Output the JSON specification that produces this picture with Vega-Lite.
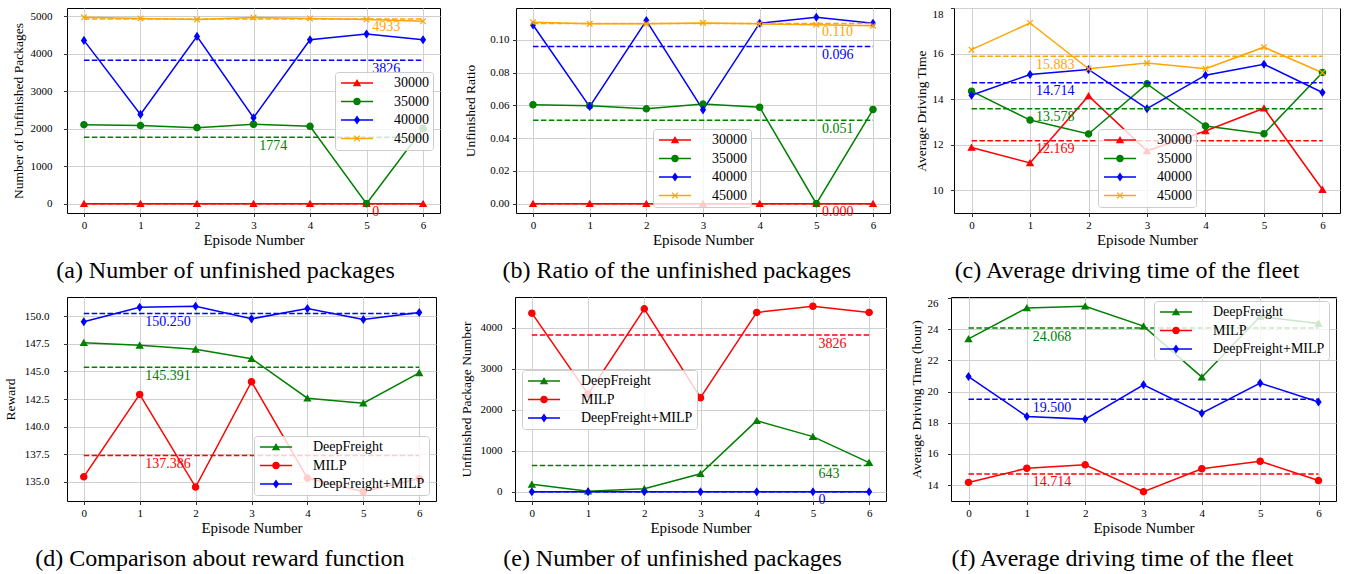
{
  "$schema": "https://vega.github.io/schema/vega-lite/v6.json",
  "background": "white",
  "padding": {"left": 3, "top": 7, "right": 4, "bottom": 0},
  "config": {
    "font": "Liberation Serif",
    "view": {"stroke": "black", "strokeWidth": 1},
    "axis": {"labelFont": "Liberation Serif", "titleFont": "Liberation Serif", "labelColor": "black", "titleColor": "black", "titleFontWeight": "normal", "tickColor": "black", "tickSize": 3.5, "tickWidth": 0.8, "domain": false, "gridColor": "#d0d0d0", "gridWidth": 1, "labelFontSize": 11},
    "axisX": {"titleFontSize": 15, "labelPadding": 2.5, "titlePadding": 2, "labelAngle": 0},
    "axisY": {"titleFontSize": 13.5},
    "legend": {"labelFont": "Liberation Serif", "labelFontSize": 14, "labelColor": "black", "strokeColor": "#cccccc", "fillColor": "rgba(255,255,255,0.8)", "cornerRadius": 3, "padding": 4, "rowPadding": 4.5, "symbolOffset": 11, "labelOffset": 30},
    "title": {"font": "Liberation Serif", "fontSize": 24, "fontWeight": "normal", "color": "black"},
    "concat": {"spacing": 23}
  },
  "datasets": {
    "a": [
      {"episode": 0, "series": "30000", "value": 0}, {"episode": 1, "series": "30000", "value": 0}, {"episode": 2, "series": "30000", "value": 0}, {"episode": 3, "series": "30000", "value": 0}, {"episode": 4, "series": "30000", "value": 0}, {"episode": 5, "series": "30000", "value": 0}, {"episode": 6, "series": "30000", "value": 0},
      {"episode": 0, "series": "35000", "value": 2110}, {"episode": 1, "series": "35000", "value": 2085}, {"episode": 2, "series": "35000", "value": 2030}, {"episode": 3, "series": "35000", "value": 2120}, {"episode": 4, "series": "35000", "value": 2066}, {"episode": 5, "series": "35000", "value": 0}, {"episode": 6, "series": "35000", "value": 2007},
      {"episode": 0, "series": "40000", "value": 4359}, {"episode": 1, "series": "40000", "value": 2384}, {"episode": 2, "series": "40000", "value": 4466}, {"episode": 3, "series": "40000", "value": 2295}, {"episode": 4, "series": "40000", "value": 4377}, {"episode": 5, "series": "40000", "value": 4528}, {"episode": 6, "series": "40000", "value": 4377},
      {"episode": 0, "series": "45000", "value": 4975}, {"episode": 1, "series": "45000", "value": 4945}, {"episode": 2, "series": "45000", "value": 4915}, {"episode": 3, "series": "45000", "value": 4968}, {"episode": 4, "series": "45000", "value": 4942}, {"episode": 5, "series": "45000", "value": 4915}, {"episode": 6, "series": "45000", "value": 4871},
      {"episode": 0, "series": "30000", "kind": "mean", "value": 0, "label": "0"}, {"episode": 6, "series": "30000", "kind": "mean", "value": 0, "label": "0"},
      {"episode": 0, "series": "35000", "kind": "mean", "value": 1774, "label": "1774"}, {"episode": 6, "series": "35000", "kind": "mean", "value": 1774, "label": "1774"},
      {"episode": 0, "series": "40000", "kind": "mean", "value": 3826, "label": "3826"}, {"episode": 6, "series": "40000", "kind": "mean", "value": 3826, "label": "3826"},
      {"episode": 0, "series": "45000", "kind": "mean", "value": 4933, "label": "4933"}, {"episode": 6, "series": "45000", "kind": "mean", "value": 4933, "label": "4933"}
    ],
    "b": [
      {"episode": 0, "series": "30000", "value": 0}, {"episode": 1, "series": "30000", "value": 0}, {"episode": 2, "series": "30000", "value": 0}, {"episode": 3, "series": "30000", "value": 0}, {"episode": 4, "series": "30000", "value": 0}, {"episode": 5, "series": "30000", "value": 0}, {"episode": 6, "series": "30000", "value": 0},
      {"episode": 0, "series": "35000", "value": 0.0604}, {"episode": 1, "series": "35000", "value": 0.0598}, {"episode": 2, "series": "35000", "value": 0.0579}, {"episode": 3, "series": "35000", "value": 0.0608}, {"episode": 4, "series": "35000", "value": 0.0589}, {"episode": 5, "series": "35000", "value": 0}, {"episode": 6, "series": "35000", "value": 0.0575},
      {"episode": 0, "series": "40000", "value": 0.1091}, {"episode": 1, "series": "40000", "value": 0.0593}, {"episode": 2, "series": "40000", "value": 0.1118}, {"episode": 3, "series": "40000", "value": 0.0573}, {"episode": 4, "series": "40000", "value": 0.1102}, {"episode": 5, "series": "40000", "value": 0.1138}, {"episode": 6, "series": "40000", "value": 0.1102},
      {"episode": 0, "series": "45000", "value": 0.1108}, {"episode": 1, "series": "45000", "value": 0.1098}, {"episode": 2, "series": "45000", "value": 0.1098}, {"episode": 3, "series": "45000", "value": 0.1104}, {"episode": 4, "series": "45000", "value": 0.1098}, {"episode": 5, "series": "45000", "value": 0.1093}, {"episode": 6, "series": "45000", "value": 0.1087},
      {"episode": 0, "series": "30000", "kind": "mean", "value": 0, "label": "0.000"}, {"episode": 6, "series": "30000", "kind": "mean", "value": 0, "label": "0.000"},
      {"episode": 0, "series": "35000", "kind": "mean", "value": 0.051, "label": "0.051"}, {"episode": 6, "series": "35000", "kind": "mean", "value": 0.051, "label": "0.051"},
      {"episode": 0, "series": "40000", "kind": "mean", "value": 0.096, "label": "0.096"}, {"episode": 6, "series": "40000", "kind": "mean", "value": 0.096, "label": "0.096"},
      {"episode": 0, "series": "45000", "kind": "mean", "value": 0.110, "label": "0.110"}, {"episode": 6, "series": "45000", "kind": "mean", "value": 0.110, "label": "0.110"}
    ],
    "c": [
      {"episode": 0, "series": "30000", "value": 11.88}, {"episode": 1, "series": "30000", "value": 11.20}, {"episode": 2, "series": "30000", "value": 14.14}, {"episode": 3, "series": "30000", "value": 11.73}, {"episode": 4, "series": "30000", "value": 12.60}, {"episode": 5, "series": "30000", "value": 13.60}, {"episode": 6, "series": "30000", "value": 10.03},
      {"episode": 0, "series": "35000", "value": 14.35}, {"episode": 1, "series": "35000", "value": 13.08}, {"episode": 2, "series": "35000", "value": 12.47}, {"episode": 3, "series": "35000", "value": 14.67}, {"episode": 4, "series": "35000", "value": 12.82}, {"episode": 5, "series": "35000", "value": 12.48}, {"episode": 6, "series": "35000", "value": 15.17},
      {"episode": 0, "series": "40000", "value": 14.17}, {"episode": 1, "series": "40000", "value": 15.08}, {"episode": 2, "series": "40000", "value": 15.30}, {"episode": 3, "series": "40000", "value": 13.58}, {"episode": 4, "series": "40000", "value": 15.05}, {"episode": 5, "series": "40000", "value": 15.53}, {"episode": 6, "series": "40000", "value": 14.29},
      {"episode": 0, "series": "45000", "value": 16.17}, {"episode": 1, "series": "45000", "value": 17.34}, {"episode": 2, "series": "45000", "value": 15.33}, {"episode": 3, "series": "45000", "value": 15.58}, {"episode": 4, "series": "45000", "value": 15.33}, {"episode": 5, "series": "45000", "value": 16.28}, {"episode": 6, "series": "45000", "value": 15.16},
      {"episode": 0, "series": "30000", "kind": "mean", "value": 12.169, "label": "12.169"}, {"episode": 6, "series": "30000", "kind": "mean", "value": 12.169, "label": "12.169"},
      {"episode": 0, "series": "35000", "kind": "mean", "value": 13.578, "label": "13.578"}, {"episode": 6, "series": "35000", "kind": "mean", "value": 13.578, "label": "13.578"},
      {"episode": 0, "series": "40000", "kind": "mean", "value": 14.714, "label": "14.714"}, {"episode": 6, "series": "40000", "kind": "mean", "value": 14.714, "label": "14.714"},
      {"episode": 0, "series": "45000", "kind": "mean", "value": 15.883, "label": "15.883"}, {"episode": 6, "series": "45000", "kind": "mean", "value": 15.883, "label": "15.883"}
    ],
    "d": [
      {"episode": 0, "series": "DeepFreight", "value": 147.61}, {"episode": 1, "series": "DeepFreight", "value": 147.37}, {"episode": 2, "series": "DeepFreight", "value": 147.01}, {"episode": 3, "series": "DeepFreight", "value": 146.16}, {"episode": 4, "series": "DeepFreight", "value": 142.58}, {"episode": 5, "series": "DeepFreight", "value": 142.13}, {"episode": 6, "series": "DeepFreight", "value": 144.88},
      {"episode": 0, "series": "MILP", "value": 135.45}, {"episode": 1, "series": "MILP", "value": 142.92}, {"episode": 2, "series": "MILP", "value": 134.52}, {"episode": 3, "series": "MILP", "value": 144.07}, {"episode": 4, "series": "MILP", "value": 135.34}, {"episode": 5, "series": "MILP", "value": 134.10}, {"episode": 6, "series": "MILP", "value": 135.30},
      {"episode": 0, "series": "DeepFreight+MILP", "value": 149.50}, {"episode": 1, "series": "DeepFreight+MILP", "value": 150.82}, {"episode": 2, "series": "DeepFreight+MILP", "value": 150.91}, {"episode": 3, "series": "DeepFreight+MILP", "value": 149.77}, {"episode": 4, "series": "DeepFreight+MILP", "value": 150.70}, {"episode": 5, "series": "DeepFreight+MILP", "value": 149.71}, {"episode": 6, "series": "DeepFreight+MILP", "value": 150.34},
      {"episode": 0, "series": "DeepFreight", "kind": "mean", "value": 145.391, "label": "145.391"}, {"episode": 6, "series": "DeepFreight", "kind": "mean", "value": 145.391, "label": "145.391"},
      {"episode": 0, "series": "MILP", "kind": "mean", "value": 137.386, "label": "137.386"}, {"episode": 6, "series": "MILP", "kind": "mean", "value": 137.386, "label": "137.386"},
      {"episode": 0, "series": "DeepFreight+MILP", "kind": "mean", "value": 150.25, "label": "150.250"}, {"episode": 6, "series": "DeepFreight+MILP", "kind": "mean", "value": 150.25, "label": "150.250"}
    ],
    "e": [
      {"episode": 0, "series": "DeepFreight", "value": 180}, {"episode": 1, "series": "DeepFreight", "value": 15}, {"episode": 2, "series": "DeepFreight", "value": 75}, {"episode": 3, "series": "DeepFreight", "value": 440}, {"episode": 4, "series": "DeepFreight", "value": 1735}, {"episode": 5, "series": "DeepFreight", "value": 1345}, {"episode": 6, "series": "DeepFreight", "value": 711},
      {"episode": 0, "series": "MILP", "value": 4359}, {"episode": 1, "series": "MILP", "value": 2384}, {"episode": 2, "series": "MILP", "value": 4466}, {"episode": 3, "series": "MILP", "value": 2295}, {"episode": 4, "series": "MILP", "value": 4377}, {"episode": 5, "series": "MILP", "value": 4528}, {"episode": 6, "series": "MILP", "value": 4377},
      {"episode": 0, "series": "DeepFreight+MILP", "value": 0}, {"episode": 1, "series": "DeepFreight+MILP", "value": 0}, {"episode": 2, "series": "DeepFreight+MILP", "value": 0}, {"episode": 3, "series": "DeepFreight+MILP", "value": 0}, {"episode": 4, "series": "DeepFreight+MILP", "value": 0}, {"episode": 5, "series": "DeepFreight+MILP", "value": 0}, {"episode": 6, "series": "DeepFreight+MILP", "value": 0},
      {"episode": 0, "series": "DeepFreight", "kind": "mean", "value": 643, "label": "643"}, {"episode": 6, "series": "DeepFreight", "kind": "mean", "value": 643, "label": "643"},
      {"episode": 0, "series": "MILP", "kind": "mean", "value": 3826, "label": "3826"}, {"episode": 6, "series": "MILP", "kind": "mean", "value": 3826, "label": "3826"},
      {"episode": 0, "series": "DeepFreight+MILP", "kind": "mean", "value": 0, "label": "0"}, {"episode": 6, "series": "DeepFreight+MILP", "kind": "mean", "value": 0, "label": "0"}
    ],
    "f": [
      {"episode": 0, "series": "DeepFreight", "value": 23.37}, {"episode": 1, "series": "DeepFreight", "value": 25.36}, {"episode": 2, "series": "DeepFreight", "value": 25.47}, {"episode": 3, "series": "DeepFreight", "value": 24.19}, {"episode": 4, "series": "DeepFreight", "value": 20.92}, {"episode": 5, "series": "DeepFreight", "value": 24.81}, {"episode": 6, "series": "DeepFreight", "value": 24.36},
      {"episode": 0, "series": "MILP", "value": 14.17}, {"episode": 1, "series": "MILP", "value": 15.08}, {"episode": 2, "series": "MILP", "value": 15.30}, {"episode": 3, "series": "MILP", "value": 13.58}, {"episode": 4, "series": "MILP", "value": 15.05}, {"episode": 5, "series": "MILP", "value": 15.53}, {"episode": 6, "series": "MILP", "value": 14.29},
      {"episode": 0, "series": "DeepFreight+MILP", "value": 20.96}, {"episode": 1, "series": "DeepFreight+MILP", "value": 18.40}, {"episode": 2, "series": "DeepFreight+MILP", "value": 18.23}, {"episode": 3, "series": "DeepFreight+MILP", "value": 20.43}, {"episode": 4, "series": "DeepFreight+MILP", "value": 18.61}, {"episode": 5, "series": "DeepFreight+MILP", "value": 20.54}, {"episode": 6, "series": "DeepFreight+MILP", "value": 19.33},
      {"episode": 0, "series": "DeepFreight", "kind": "mean", "value": 24.068, "label": "24.068"}, {"episode": 6, "series": "DeepFreight", "kind": "mean", "value": 24.068, "label": "24.068"},
      {"episode": 0, "series": "MILP", "kind": "mean", "value": 14.714, "label": "14.714"}, {"episode": 6, "series": "MILP", "kind": "mean", "value": 14.714, "label": "14.714"},
      {"episode": 0, "series": "DeepFreight+MILP", "kind": "mean", "value": 19.5, "label": "19.500"}, {"episode": 6, "series": "DeepFreight+MILP", "kind": "mean", "value": 19.5, "label": "19.500"}
    ]
  },
  "resolve": {"scale": {"color": "independent", "fill": "independent", "shape": "independent", "stroke": "independent"}},
  "spacing": 12,
  "vconcat": [
    {
      "resolve": {"scale": {"color": "independent", "fill": "independent", "shape": "independent", "stroke": "independent"}},
      "spacing": 22,
      "hconcat": [
        {
          "width": 373, "height": 205,
          "title": {"text": "(a) Number of unfinished packages", "orient": "bottom", "anchor": "middle", "frame": "bounds", "offset": 12},
          "data": {"name": "a"},
          "encoding": {
            "x": {"field": "episode", "type": "quantitative", "scale": {"domain": [-0.3, 6.3], "nice": false, "zero": false}, "axis": {"values": [0, 1, 2, 3, 4, 5, 6], "format": "d", "title": "Episode Number"}},
            "y": {"field": "value", "type": "quantitative", "scale": {"domain": [-249, 5224], "nice": false, "zero": false}, "axis": {"values": [0, 1000, 2000, 3000, 4000, 5000], "format": "d", "title": "Number of Unfinished Packages", "labelPadding": 11.5, "titlePadding": 5}}
          },
          "layer": [
            {"transform": [{"filter": "datum.kind !== 'mean'"}], "mark": {"type": "line", "strokeWidth": 1.5},
             "encoding": {"color": {"field": "series", "type": "nominal", "scale": {"range": ["#ff0000", "#008000", "#0000ff", "#ffa500"]}, "legend": {"title": null, "orient": "none", "direction": "vertical", "legendX": 268, "legendY": 64, "symbolType": "M-3.2,0H3.2", "symbolSize": 100, "symbolStrokeWidth": 1.5, "zindex": 1}}}},
            {"transform": [{"filter": "datum.kind !== 'mean'"}], "mark": {"type": "point", "filled": true, "size": 40, "strokeWidth": 1.2, "opacity": 1},
             "encoding": {
               "fill": {"field": "series", "type": "nominal", "scale": {"domain": ["30000", "35000", "40000", "45000"], "range": ["#ff0000", "#008000", "#0000ff", "#ffa500"]}, "legend": {"title": null, "orient": "none", "direction": "vertical", "legendX": 268, "legendY": 64, "symbolSize": 40, "symbolStrokeWidth": 1.2, "labelOpacity": 0, "fillColor": "rgba(0,0,0,0)", "strokeColor": "rgba(0,0,0,0)", "zindex": 2}},
               "shape": {"field": "series", "type": "nominal", "scale": {"domain": ["30000", "35000", "40000", "45000"], "range": ["triangle-up", "circle", "M0,-1.1L0.75,0L0,1.1L-0.75,0Z", "M-0.9,-0.9L0.9,0.9M0.9,-0.9L-0.9,0.9"]}},
               "stroke": {"field": "series", "type": "nominal", "scale": {"domain": ["30000", "35000", "40000", "45000"], "range": ["#ff0000", "#008000", "#0000ff", "#ffa500"]}}
             }},
            {"transform": [{"filter": "datum.kind === 'mean'"}], "mark": {"type": "line", "strokeDash": [5.5, 2.4], "strokeWidth": 1.5}, "encoding": {"color": {"field": "series", "type": "nominal", "scale": {"range": ["#ff0000", "#008000", "#0000ff", "#ffa500"]}}}},
            {"transform": [{"filter": "datum.kind === 'mean' && datum.episode === 6 && datum.series !== '35000'"}], "mark": {"type": "text", "align": "left", "baseline": "top", "dy": 1.5, "fontSize": 14, "font": "Liberation Serif"}, "encoding": {"x": {"datum": 5.1}, "text": {"field": "label"}, "color": {"field": "series", "type": "nominal", "scale": {"range": ["#ff0000", "#008000", "#0000ff", "#ffa500"]}}}},
            {"transform": [{"filter": "datum.kind === 'mean' && datum.episode === 6 && datum.series === '35000'"}], "mark": {"type": "text", "align": "left", "baseline": "top", "dy": 1.5, "fontSize": 14, "font": "Liberation Serif"}, "encoding": {"x": {"datum": 3.1}, "text": {"field": "label"}, "color": {"field": "series", "type": "nominal", "scale": {"range": ["#ff0000", "#008000", "#0000ff", "#ffa500"]}}}}
          ]
        },
        {
          "width": 374, "height": 205,
          "title": {"text": "(b) Ratio of the unfinished packages", "orient": "bottom", "anchor": "middle", "frame": "bounds", "offset": 12},
          "data": {"name": "b"},
          "encoding": {
            "x": {"field": "episode", "type": "quantitative", "scale": {"domain": [-0.3, 6.3], "nice": false, "zero": false}, "axis": {"values": [0, 1, 2, 3, 4, 5, 6], "format": "d", "title": "Episode Number"}},
            "y": {"field": "value", "type": "quantitative", "scale": {"domain": [-0.00569, 0.11949], "nice": false, "zero": false}, "axis": {"values": [0, 0.02, 0.04, 0.06, 0.08, 0.1], "format": ".2f", "title": "Unfinished Ratio", "labelPadding": 3.5, "titlePadding": 12}}
          },
          "layer": [
            {"transform": [{"filter": "datum.kind !== 'mean'"}], "mark": {"type": "line", "strokeWidth": 1.5},
             "encoding": {"color": {"field": "series", "type": "nominal", "scale": {"range": ["#ff0000", "#008000", "#0000ff", "#ffa500"]}, "legend": {"title": null, "orient": "none", "direction": "vertical", "legendX": 137, "legendY": 121, "symbolType": "M-3.2,0H3.2", "symbolSize": 100, "symbolStrokeWidth": 1.5, "zindex": 1}}}},
            {"transform": [{"filter": "datum.kind !== 'mean'"}], "mark": {"type": "point", "filled": true, "size": 40, "strokeWidth": 1.2, "opacity": 1},
             "encoding": {
               "fill": {"field": "series", "type": "nominal", "scale": {"domain": ["30000", "35000", "40000", "45000"], "range": ["#ff0000", "#008000", "#0000ff", "#ffa500"]}, "legend": {"title": null, "orient": "none", "direction": "vertical", "legendX": 137, "legendY": 121, "symbolSize": 40, "symbolStrokeWidth": 1.2, "labelOpacity": 0, "fillColor": "rgba(0,0,0,0)", "strokeColor": "rgba(0,0,0,0)", "zindex": 2}},
               "shape": {"field": "series", "type": "nominal", "scale": {"domain": ["30000", "35000", "40000", "45000"], "range": ["triangle-up", "circle", "M0,-1.1L0.75,0L0,1.1L-0.75,0Z", "M-0.9,-0.9L0.9,0.9M0.9,-0.9L-0.9,0.9"]}},
               "stroke": {"field": "series", "type": "nominal", "scale": {"domain": ["30000", "35000", "40000", "45000"], "range": ["#ff0000", "#008000", "#0000ff", "#ffa500"]}}
             }},
            {"transform": [{"filter": "datum.kind === 'mean'"}], "mark": {"type": "line", "strokeDash": [5.5, 2.4], "strokeWidth": 1.5}, "encoding": {"color": {"field": "series", "type": "nominal", "scale": {"range": ["#ff0000", "#008000", "#0000ff", "#ffa500"]}}}},
            {"transform": [{"filter": "datum.kind === 'mean' && datum.episode === 6"}], "mark": {"type": "text", "align": "left", "baseline": "top", "dy": 1.5, "fontSize": 14, "font": "Liberation Serif"}, "encoding": {"x": {"datum": 5.1}, "text": {"field": "label"}, "color": {"field": "series", "type": "nominal", "scale": {"range": ["#ff0000", "#008000", "#0000ff", "#ffa500"]}}}}
          ]
        },
        {
          "width": 386, "height": 205,
          "title": {"text": "(c) Average driving time of the fleet", "orient": "bottom", "anchor": "middle", "frame": "bounds", "offset": 12},
          "data": {"name": "c"},
          "encoding": {
            "x": {"field": "episode", "type": "quantitative", "scale": {"domain": [-0.3, 6.3], "nice": false, "zero": false}, "axis": {"values": [0, 1, 2, 3, 4, 5, 6], "format": "d", "title": "Episode Number"}},
            "y": {"field": "value", "type": "quantitative", "scale": {"domain": [9, 18], "nice": false, "zero": false}, "axis": {"values": [10, 12, 14, 16, 18], "format": "d", "title": "Average Driving Time", "labelPadding": 7.5, "titlePadding": 4, "labelFlush": 3}}
          },
          "layer": [
            {"transform": [{"filter": "datum.kind !== 'mean'"}], "mark": {"type": "line", "strokeWidth": 1.5},
             "encoding": {"color": {"field": "series", "type": "nominal", "scale": {"range": ["#ff0000", "#008000", "#0000ff", "#ffa500"]}, "legend": {"title": null, "orient": "none", "direction": "vertical", "legendX": 144, "legendY": 121, "symbolType": "M-3.2,0H3.2", "symbolSize": 100, "symbolStrokeWidth": 1.5, "zindex": 1}}}},
            {"transform": [{"filter": "datum.kind !== 'mean'"}], "mark": {"type": "point", "filled": true, "size": 40, "strokeWidth": 1.2, "opacity": 1},
             "encoding": {
               "fill": {"field": "series", "type": "nominal", "scale": {"domain": ["30000", "35000", "40000", "45000"], "range": ["#ff0000", "#008000", "#0000ff", "#ffa500"]}, "legend": {"title": null, "orient": "none", "direction": "vertical", "legendX": 144, "legendY": 121, "symbolSize": 40, "symbolStrokeWidth": 1.2, "labelOpacity": 0, "fillColor": "rgba(0,0,0,0)", "strokeColor": "rgba(0,0,0,0)", "zindex": 2}},
               "shape": {"field": "series", "type": "nominal", "scale": {"domain": ["30000", "35000", "40000", "45000"], "range": ["triangle-up", "circle", "M0,-1.1L0.75,0L0,1.1L-0.75,0Z", "M-0.9,-0.9L0.9,0.9M0.9,-0.9L-0.9,0.9"]}},
               "stroke": {"field": "series", "type": "nominal", "scale": {"domain": ["30000", "35000", "40000", "45000"], "range": ["#ff0000", "#008000", "#0000ff", "#ffa500"]}}
             }},
            {"transform": [{"filter": "datum.kind === 'mean'"}], "mark": {"type": "line", "strokeDash": [5.5, 2.4], "strokeWidth": 1.5}, "encoding": {"color": {"field": "series", "type": "nominal", "scale": {"range": ["#ff0000", "#008000", "#0000ff", "#ffa500"]}}}},
            {"transform": [{"filter": "datum.kind === 'mean' && datum.episode === 6"}], "mark": {"type": "text", "align": "left", "baseline": "top", "dy": 1.5, "fontSize": 14, "font": "Liberation Serif"}, "encoding": {"x": {"datum": 1.1}, "text": {"field": "label"}, "color": {"field": "series", "type": "nominal", "scale": {"range": ["#ff0000", "#008000", "#0000ff", "#ffa500"]}}}}
          ]
        }
      ]
    },
    {
      "resolve": {"scale": {"color": "independent", "fill": "independent", "shape": "independent", "stroke": "independent"}},
      "spacing": 21,
      "hconcat": [
        {
          "width": 369, "height": 204,
          "title": {"text": "(d) Comparison about reward function", "orient": "bottom", "anchor": "middle", "frame": "bounds", "offset": 12},
          "data": {"name": "d"},
          "encoding": {
            "x": {"field": "episode", "type": "quantitative", "scale": {"domain": [-0.3, 6.3], "nice": false, "zero": false}, "axis": {"values": [0, 1, 2, 3, 4, 5, 6], "format": "d", "title": "Episode Number"}},
            "y": {"field": "value", "type": "quantitative", "scale": {"domain": [133.26, 151.75], "nice": false, "zero": false}, "axis": {"values": [135, 137.5, 140, 142.5, 145, 147.5, 150], "format": ".1f", "title": "Reward", "labelPadding": 14.5, "titlePadding": 6.5}}
          },
          "layer": [
            {"transform": [{"filter": "datum.kind !== 'mean'"}], "mark": {"type": "line", "strokeWidth": 1.5},
             "encoding": {"color": {"field": "series", "type": "nominal", "sort": ["DeepFreight", "MILP", "DeepFreight+MILP"], "scale": {"range": ["#008000", "#ff0000", "#0000ff"]}, "legend": {"title": null, "orient": "none", "direction": "vertical", "legendX": 187, "legendY": 139, "symbolType": "M-3.2,0H3.2", "symbolSize": 100, "symbolStrokeWidth": 1.5, "zindex": 1}}}},
            {"transform": [{"filter": "datum.kind !== 'mean'"}], "mark": {"type": "point", "filled": true, "size": 40, "strokeWidth": 1.2, "opacity": 1},
             "encoding": {
               "fill": {"field": "series", "type": "nominal", "scale": {"domain": ["DeepFreight", "MILP", "DeepFreight+MILP"], "range": ["#008000", "#ff0000", "#0000ff"]}, "legend": {"title": null, "orient": "none", "direction": "vertical", "legendX": 187, "legendY": 139, "symbolSize": 40, "symbolStrokeWidth": 1.2, "labelOpacity": 0, "fillColor": "rgba(0,0,0,0)", "strokeColor": "rgba(0,0,0,0)", "zindex": 2}},
               "shape": {"field": "series", "type": "nominal", "scale": {"domain": ["DeepFreight", "MILP", "DeepFreight+MILP"], "range": ["triangle-up", "circle", "M0,-1.1L0.75,0L0,1.1L-0.75,0Z"]}},
               "stroke": {"field": "series", "type": "nominal", "scale": {"domain": ["DeepFreight", "MILP", "DeepFreight+MILP"], "range": ["#008000", "#ff0000", "#0000ff"]}}
             }},
            {"transform": [{"filter": "datum.kind === 'mean'"}], "mark": {"type": "line", "strokeDash": [5.5, 2.4], "strokeWidth": 1.5}, "encoding": {"color": {"field": "series", "type": "nominal", "sort": ["DeepFreight", "MILP", "DeepFreight+MILP"], "scale": {"range": ["#008000", "#ff0000", "#0000ff"]}}}},
            {"transform": [{"filter": "datum.kind === 'mean' && datum.episode === 6"}], "mark": {"type": "text", "align": "left", "baseline": "top", "dy": 1.5, "fontSize": 14, "font": "Liberation Serif"}, "encoding": {"x": {"datum": 1.1}, "text": {"field": "label"}, "color": {"field": "series", "type": "nominal", "sort": ["DeepFreight", "MILP", "DeepFreight+MILP"], "scale": {"range": ["#008000", "#ff0000", "#0000ff"]}}}}
          ]
        },
        {
          "width": 371, "height": 204,
          "title": {"text": "(e) Number of unfinished packages", "orient": "bottom", "anchor": "middle", "frame": "bounds", "offset": 12},
          "data": {"name": "e"},
          "encoding": {
            "x": {"field": "episode", "type": "quantitative", "scale": {"domain": [-0.3, 6.3], "nice": false, "zero": false}, "axis": {"values": [0, 1, 2, 3, 4, 5, 6], "format": "d", "title": "Episode Number"}},
            "y": {"field": "value", "type": "quantitative", "scale": {"domain": [-226, 4754], "nice": false, "zero": false}, "axis": {"values": [0, 1000, 2000, 3000, 4000], "format": "d", "title": "Unfinished Package Number", "labelPadding": 9.5, "titlePadding": 7}}
          },
          "layer": [
            {"transform": [{"filter": "datum.kind !== 'mean'"}], "mark": {"type": "line", "strokeWidth": 1.5},
             "encoding": {"color": {"field": "series", "type": "nominal", "sort": ["DeepFreight", "MILP", "DeepFreight+MILP"], "scale": {"range": ["#008000", "#ff0000", "#0000ff"]}, "legend": {"title": null, "orient": "none", "direction": "vertical", "legendX": 7, "legendY": 73, "symbolType": "M-3.2,0H3.2", "symbolSize": 100, "symbolStrokeWidth": 1.5, "zindex": 1}}}},
            {"transform": [{"filter": "datum.kind !== 'mean'"}], "mark": {"type": "point", "filled": true, "size": 40, "strokeWidth": 1.2, "opacity": 1},
             "encoding": {
               "fill": {"field": "series", "type": "nominal", "scale": {"domain": ["DeepFreight", "MILP", "DeepFreight+MILP"], "range": ["#008000", "#ff0000", "#0000ff"]}, "legend": {"title": null, "orient": "none", "direction": "vertical", "legendX": 7, "legendY": 73, "symbolSize": 40, "symbolStrokeWidth": 1.2, "labelOpacity": 0, "fillColor": "rgba(0,0,0,0)", "strokeColor": "rgba(0,0,0,0)", "zindex": 2}},
               "shape": {"field": "series", "type": "nominal", "scale": {"domain": ["DeepFreight", "MILP", "DeepFreight+MILP"], "range": ["triangle-up", "circle", "M0,-1.1L0.75,0L0,1.1L-0.75,0Z"]}},
               "stroke": {"field": "series", "type": "nominal", "scale": {"domain": ["DeepFreight", "MILP", "DeepFreight+MILP"], "range": ["#008000", "#ff0000", "#0000ff"]}}
             }},
            {"transform": [{"filter": "datum.kind === 'mean'"}], "mark": {"type": "line", "strokeDash": [5.5, 2.4], "strokeWidth": 1.5}, "encoding": {"color": {"field": "series", "type": "nominal", "sort": ["DeepFreight", "MILP", "DeepFreight+MILP"], "scale": {"range": ["#008000", "#ff0000", "#0000ff"]}}}},
            {"transform": [{"filter": "datum.kind === 'mean' && datum.episode === 6"}], "mark": {"type": "text", "align": "left", "baseline": "top", "dy": 1.5, "fontSize": 14, "font": "Liberation Serif"}, "encoding": {"x": {"datum": 5.1}, "text": {"field": "label"}, "color": {"field": "series", "type": "nominal", "sort": ["DeepFreight", "MILP", "DeepFreight+MILP"], "scale": {"range": ["#008000", "#ff0000", "#0000ff"]}}}}
          ]
        },
        {
          "width": 385, "height": 204,
          "title": {"text": "(f) Average driving time of the fleet", "orient": "bottom", "anchor": "middle", "frame": "bounds", "offset": 12},
          "data": {"name": "f"},
          "encoding": {
            "x": {"field": "episode", "type": "quantitative", "scale": {"domain": [-0.3, 6.3], "nice": false, "zero": false}, "axis": {"values": [0, 1, 2, 3, 4, 5, 6], "format": "d", "title": "Episode Number"}},
            "y": {"field": "value", "type": "quantitative", "scale": {"domain": [12.98, 26.06], "nice": false, "zero": false}, "axis": {"values": [14, 16, 18, 20, 22, 24, 26], "format": "d", "title": "Average Driving Time (hour)", "labelPadding": 9.5, "titlePadding": 4, "labelFlush": 3}}
          },
          "layer": [
            {"transform": [{"filter": "datum.kind !== 'mean'"}], "mark": {"type": "line", "strokeWidth": 1.5},
             "encoding": {"color": {"field": "series", "type": "nominal", "sort": ["DeepFreight", "MILP", "DeepFreight+MILP"], "scale": {"range": ["#008000", "#ff0000", "#0000ff"]}, "legend": {"title": null, "orient": "none", "direction": "vertical", "legendX": 203, "legendY": 4, "symbolType": "M-3.2,0H3.2", "symbolSize": 100, "symbolStrokeWidth": 1.5, "zindex": 1}}}},
            {"transform": [{"filter": "datum.kind !== 'mean'"}], "mark": {"type": "point", "filled": true, "size": 40, "strokeWidth": 1.2, "opacity": 1},
             "encoding": {
               "fill": {"field": "series", "type": "nominal", "scale": {"domain": ["DeepFreight", "MILP", "DeepFreight+MILP"], "range": ["#008000", "#ff0000", "#0000ff"]}, "legend": {"title": null, "orient": "none", "direction": "vertical", "legendX": 203, "legendY": 4, "symbolSize": 40, "symbolStrokeWidth": 1.2, "labelOpacity": 0, "fillColor": "rgba(0,0,0,0)", "strokeColor": "rgba(0,0,0,0)", "zindex": 2}},
               "shape": {"field": "series", "type": "nominal", "scale": {"domain": ["DeepFreight", "MILP", "DeepFreight+MILP"], "range": ["triangle-up", "circle", "M0,-1.1L0.75,0L0,1.1L-0.75,0Z"]}},
               "stroke": {"field": "series", "type": "nominal", "scale": {"domain": ["DeepFreight", "MILP", "DeepFreight+MILP"], "range": ["#008000", "#ff0000", "#0000ff"]}}
             }},
            {"transform": [{"filter": "datum.kind === 'mean'"}], "mark": {"type": "line", "strokeDash": [5.5, 2.4], "strokeWidth": 1.5}, "encoding": {"color": {"field": "series", "type": "nominal", "sort": ["DeepFreight", "MILP", "DeepFreight+MILP"], "scale": {"range": ["#008000", "#ff0000", "#0000ff"]}}}},
            {"transform": [{"filter": "datum.kind === 'mean' && datum.episode === 6"}], "mark": {"type": "text", "align": "left", "baseline": "top", "dy": 1.5, "fontSize": 14, "font": "Liberation Serif"}, "encoding": {"x": {"datum": 1.1}, "text": {"field": "label"}, "color": {"field": "series", "type": "nominal", "sort": ["DeepFreight", "MILP", "DeepFreight+MILP"], "scale": {"range": ["#008000", "#ff0000", "#0000ff"]}}}}
          ]
        }
      ]
    }
  ]
}
